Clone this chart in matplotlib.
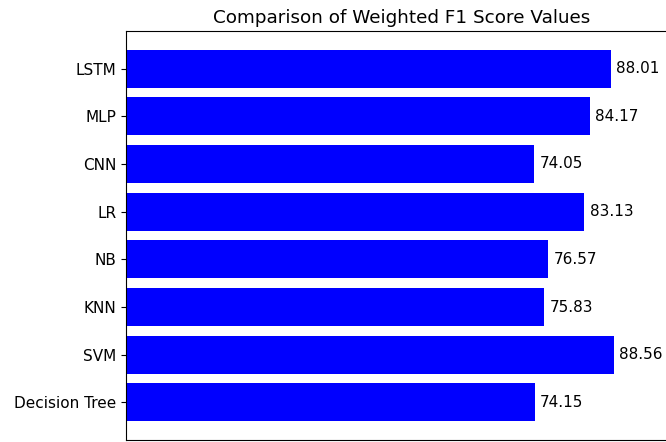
import matplotlib.pyplot as plt

models = ['Decision Tree', 'SVM', 'KNN', 'NB', 'LR', 'CNN', 'MLP', 'LSTM']
f1_scores = [74.15, 88.56, 75.83, 76.57, 83.13, 74.05, 84.17, 88.01]

plt.rcParams['font.size'] = 11

fig = plt.figure(figsize=(6.66, 4.42), dpi=100)
ax = fig.add_axes([126 / 666, 2 / 442, 551 / 666, 409 / 442])
ax.barh(models, f1_scores, color='blue')
for i, v in enumerate(f1_scores):
    ax.text(v + 1, i, f'{v:.2f}', va='center', fontsize=11)
ax.set_xlim(0, 100)
ax.tick_params(axis='x', bottom=False, labelbottom=False)
ax.set_title('Comparison of Weighted F1 Score Values', fontsize=13.2)
fig.savefig('out.png', dpi=100)
